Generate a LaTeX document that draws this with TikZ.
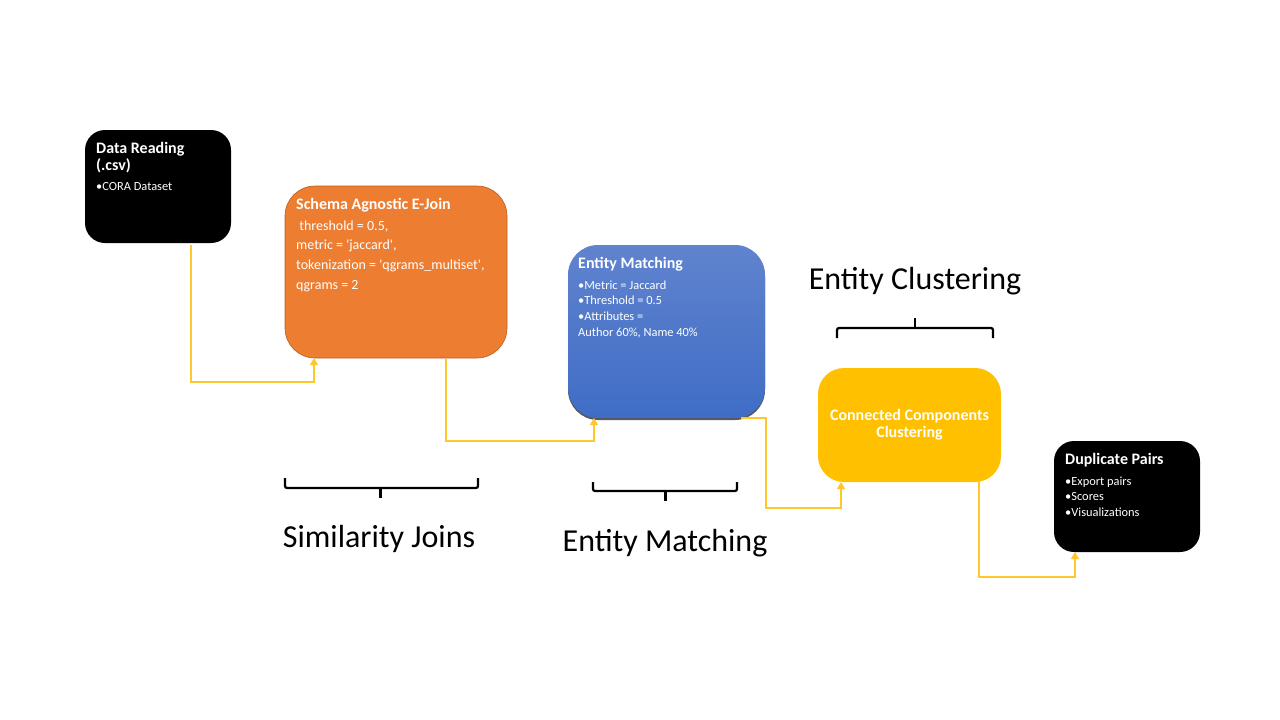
\documentclass[tikz,border=0pt]{standalone}
\usepackage{fontspec}
\setmainfont{Carlito}
\usetikzlibrary{arrows.meta}
\definecolor{cOrange}{HTML}{ED7D31}
\definecolor{cOrangeD}{HTML}{B85E22}
\definecolor{cBlueT}{HTML}{6083CE}
\definecolor{cBlueB}{HTML}{3F6DC6}
\definecolor{cYellow}{HTML}{FFC000}
\definecolor{cLine}{HTML}{FFC72C}
\newcommand{\sq}{\textquotesingle}
\tikzset{
  title/.style={anchor=base west, inner sep=0pt, text=white, font=\fontsize{16}{17}\selectfont\bfseries},
  body/.style={anchor=base west, inner sep=0pt, text=white, font=\fontsize{12.4}{14}\selectfont},
  bodybig/.style={anchor=base west, inner sep=0pt, text=white, font=\fontsize{14}{16}\selectfont},
  flow/.style={draw=cLine, line width=1.3pt, -{Triangle[width=8pt,length=7pt]}},
  bracepath/.style={draw=black, line width=2.2pt, rounded corners=2pt},
  bracetip/.style={draw=black, line width=2.2pt},
  biglabel/.style={inner sep=0pt, font=\fontsize{32}{36}\selectfont}
}
\begin{document}
\begin{tikzpicture}[x=1pt,y=-1pt]
\useasboundingbox (0,0) rectangle (1280,720);
\fill[white] (0,0) rectangle (1280,720);

% Boxes
\fill[black, rounded corners=20pt] (85,130) rectangle (231,243);
\coordinate (drb) at (191,245);
\node[title] (dr1) at (96,153.5) {Data Reading};
\node[title] (dr2) at (96,170.5) {(.csv)};
\node[body] (dr3) at (96,190) {•CORA Dataset};

\filldraw[fill=cOrange, draw=cOrangeD, line width=0.6pt, rounded corners=30pt] (285,186) rectangle (507,358);
\node[title] (sa1) at (296,209.5) {Schema Agnostic E-Join};
\node[bodybig] (sa2) at (296,230.5) {\ threshold = 0.5,};
\node[bodybig] (sa3) at (296,249.5) {metric = \sq jaccard\sq,};
\node[bodybig] (sa4) at (296,269.5) {tokenization = \sq qgrams\_multiset\sq,};
\node[bodybig] (sa5) at (296,289.5) {qgrams = 2};
\coordinate (sain) at (314,358);
\coordinate (saout) at (446,359);

\fill[black!65, rounded corners=30pt] (568,247) rectangle (765,420);
\shade[top color=cBlueT, bottom color=cBlueB, rounded corners=30pt] (568,245) rectangle (765,418);
\node[title] (em1) at (578,268.5) {Entity Matching};
\node[body] (em2) at (578,289) {•Metric = Jaccard};
\node[body] (em3) at (578,304.5) {•Threshold = 0.5};
\node[body] (em4) at (578,320) {•Attributes =};
\node[body] (em5) at (578,336) {Author 60\%, Name 40\%};
\coordinate (emin) at (594,418);
\coordinate (emout) at (741,418);

\fill[cYellow, rounded corners=26pt] (818,368) rectangle (1001,482);
\node[text=white, align=center, inner sep=0pt, font=\fontsize{16}{17}\selectfont\bfseries] (cc) at (909.5,424.5) {Connected Components\\Clustering};
\coordinate (ccin) at (841,482);
\coordinate (ccout) at (979,482);

\fill[black, rounded corners=20pt] (1054,441) rectangle (1200,552);
\node[title] (dp1) at (1065,464.5) {Duplicate Pairs};
\node[body] (dp2) at (1065,485) {•Export pairs};
\node[body] (dp3) at (1065,500.5) {•Scores};
\node[body] (dp4) at (1065,516) {•Visualizations};
\coordinate (dpin) at (1075,552);

% Connectors
\draw[flow] (drb) |- (314,382) -- (sain);
\draw[flow] (saout) |- (594,441) -- (emin);
\draw[flow] (emout) -- (766,418) |- (841,508) -- (ccin);
\draw[flow] (ccout) |- (1075,577) -- (dpin);

% Braces
\draw[bracepath] (285,478) -- (285,488) -- (478,488) -- (478,478);
\draw[bracetip] (380.5,488) -- (380.5,498);
\node[biglabel] (sj) at (379,539) {Similarity Joins};

\draw[bracepath] (593,482) -- (593,491) -- (737,491) -- (737,482);
\draw[bracetip] (665.5,491) -- (665.5,501);
\node[biglabel] (eml) at (665,543) {Entity Matching};

\draw[bracepath] (837,338) -- (837,328) -- (993,328) -- (993,338);
\draw[bracetip] (915,328) -- (915,318);
\node[biglabel] (ecl) at (915,281) {Entity Clustering};
\end{tikzpicture}
\end{document}
